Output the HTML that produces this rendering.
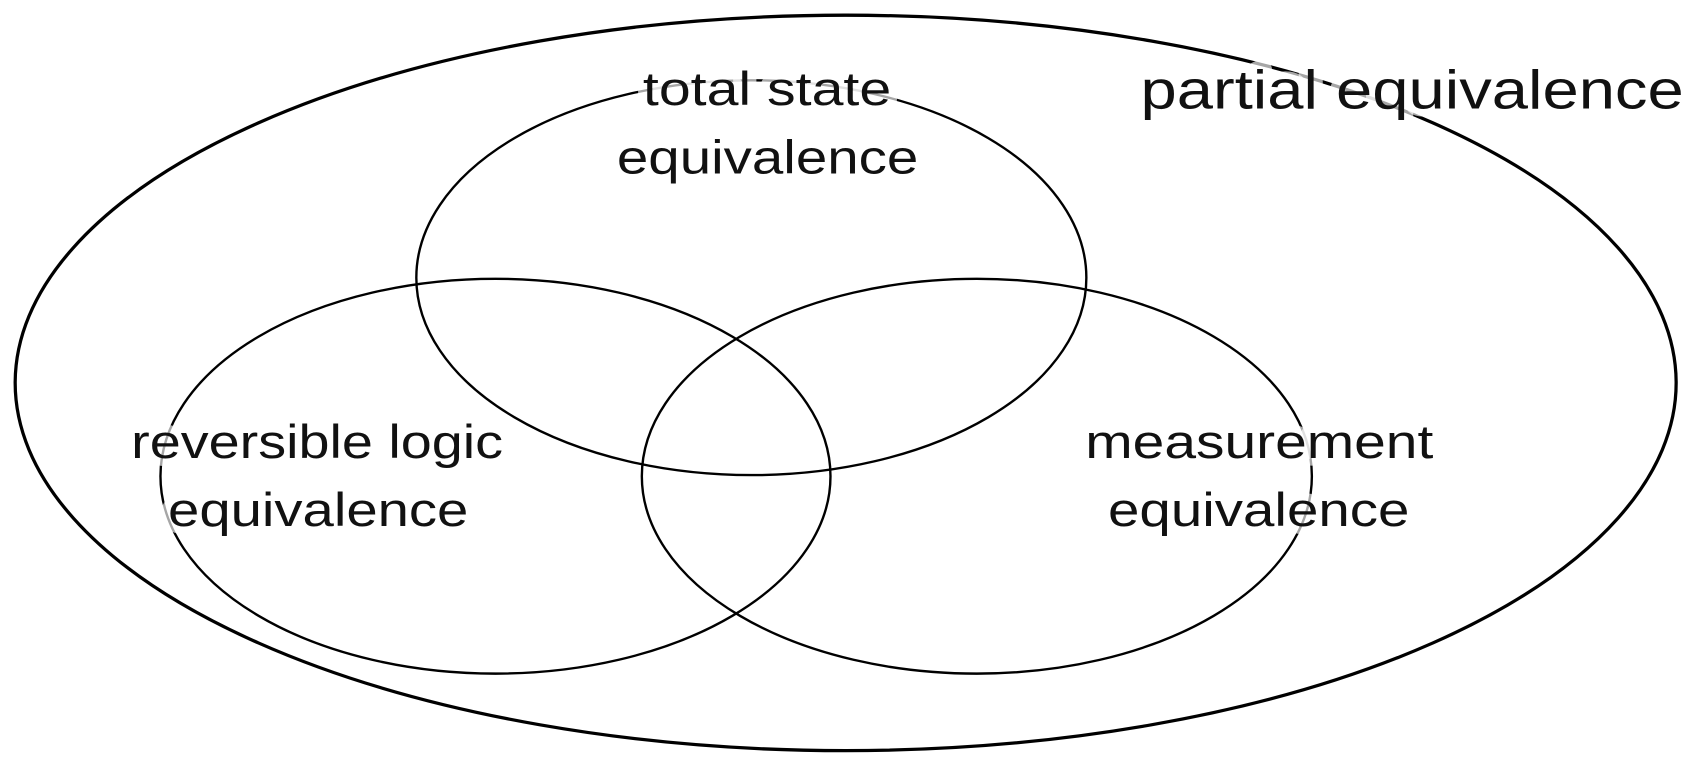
<!DOCTYPE html>
<html><head><meta charset="utf-8"><style>
html,body{margin:0;padding:0;background:#fff;width:1700px;height:768px;overflow:hidden}
svg{display:block}
text{font-family:"Liberation Sans",sans-serif;fill:#111;paint-order:stroke;stroke:#fff;stroke-opacity:0.65;stroke-width:14px;stroke-linejoin:round}
</style></head><body>
<svg width="1700" height="768" viewBox="0 0 1568 708" preserveAspectRatio="none" xmlns="http://www.w3.org/2000/svg">
<g fill="none" stroke="#000">
<ellipse cx="780" cy="353" rx="766" ry="339" stroke-width="3"/>
<ellipse cx="693" cy="256" rx="309" ry="182" stroke-width="2.2"/>
<ellipse cx="457" cy="439" rx="309" ry="182" stroke-width="2.2"/>
<ellipse cx="901" cy="439" rx="309" ry="182" stroke-width="2.2"/>
</g>
<text x="1052" y="100" font-size="50" textLength="501" lengthAdjust="spacingAndGlyphs">partial equivalence</text>
<g font-size="44" lengthAdjust="spacingAndGlyphs">
<text x="593" y="97" textLength="229" lengthAdjust="spacingAndGlyphs">total state</text>
<text x="569" y="160" textLength="278" lengthAdjust="spacingAndGlyphs">equivalence</text>
<text x="121" y="422" textLength="343" lengthAdjust="spacingAndGlyphs">reversible logic</text>
<text x="155" y="485" textLength="277" lengthAdjust="spacingAndGlyphs">equivalence</text>
<text x="1001" y="422" textLength="321" lengthAdjust="spacingAndGlyphs">measurement</text>
<text x="1022" y="485" textLength="278" lengthAdjust="spacingAndGlyphs">equivalence</text>
</g>
</svg>
</body></html>
